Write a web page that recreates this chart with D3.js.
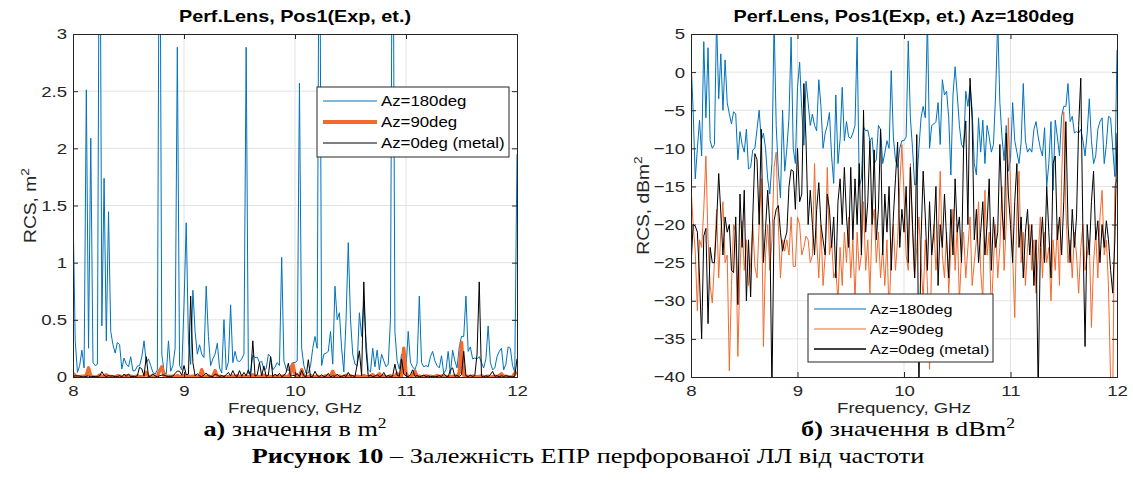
<!DOCTYPE html>
<html>
<head>
<meta charset="utf-8">
<script src="https://cdn.jsdelivr.net/npm/d3@7"></script>
<style>
  body { margin: 0; background: #fff; }
  svg { display: block; }
</style>
</head>
<body>
<svg id="chart" width="1133" height="494"></svg>
<script>
// Frequency grid, GHz
const freqStart = 8;
const freqStep = 0.02;

// RCS readings in dBm2, one per frequency step (201 points, 8..12 GHz)
const az180 = [
  1.7, -5, -14, -10, -6.3, -11, 4, -6, 3.2, -9,
  -10, -9.5, 7, -3.5, 2.4, -5, 1.6, -4, -5.5, -6.8,
  -5.2, -5.5, -11.5, -7.8, -9.5, -10.5, -7.5, -12.7, -12.5, -10.2,
  -10, -7.5, -5, -9, -8, -10, -14, -16, -12, 7,
  -7, -13, -16.5, -5, -13, -10, -6, 4.6, -10, -12,
  -2, 1.3, -5, -9.6, -1.2, -4, -7, -5.5, -7, -7.7,
  -1, -4.5, -10, -8, -7, -5.3, -11, -14.6, -3, -12,
  -8.8, -2, -9, -6.5, -8.5, -8.7, -8, -7, 4.6, -15,
  -14, -7.2, -7.7, -7.6, -9, -8.6, -12, -11.5, -7, -7.5,
  -12, -10.6, -9, -10, 0.2, -8.5, -11.5, -12.5, -10, -9,
  -9, -8.5, 4.1, -6, -10, -14.8, -14.6, -10, -6, -4.5,
  -6, 7, -10, -7, -6.8, -6.5, -4, -9.5, -1, -3,
  -2.5, -6, -13.5, -3, 0.7, -3, -7, -9.5, -10, -2.5,
  -4.5, -1.8, -5, -12, -13.5, -6, -10.5, -6.3, -12, -7,
  -8.5, -10.5, -9.5, -3, 7, -4, -8.5, -11.6, -7, -13,
  -11.5, -4, -9, -10.5, -12, -9.2, -1.5, -9, -10.5, -10,
  -10.5, -7.5, -6.5, -8.5, -10, -11, -7.3, -15, -12, -6.5,
  -15.5, -6.3, -8.5, -11, -5.8, -4.5, -4.5, -1.5, -6.5, -5.8,
  -8, -7.8, -8, -7.5, -9, -11, -8, -3.5, -9, -12,
  -11, -7.5, -6.5, -6, -12, -9.5, -5.8, -6, -10, -13.7,
  2.9
];

const az90 = [
  -15, -20, -23.5, -31.3, -22, -23, -18, -11, -22, -28,
  -30.3, -25, -18, -27, -21, -17, -25, -24, -39.2, -28,
  -20, -21, -37.3, -26, -19.5, -26, -22, -28, -25, -20,
  -25.5, -27, -20, -14, -36, -24, -20, -26, -22, -12.5,
  -10.5, -20, -27, -22, -23.5, -22, -24, -19, -25.5, -25.5,
  -19, -20, -24, -23, -21.5, -22, -25, -24, -12, -22,
  -27, -20, -28, -24, -12.5, -24, -22, -27, -26, -30,
  -23, -28, -21, -25, -19, -27, -22, -30, -21, -26,
  -24, -17, -26, -22, -29, -20, -18, -25, -21, -27,
  -23, -28, -22, -32, -24, -20, -26, -22, -15, -9.5,
  -16, -24, -26, -12, -21, -27, -23, -19, -25, -30,
  -22, -28, -39, -24, -20, -26, -22, -13, -24, -27,
  -21, -29, -23, -18, -26, -20, -30, -24, -21, -27,
  -23, -19, -28, -25, -22, -17, -26, -30, -15.5, -24,
  -21, -32, -25, -20, -27, -23, -15, -26, -20, -6,
  -15, -24, -32.2, -18, -13, -25, -21, -28, -23, -20,
  -26, -22, -29, -24, -19, -27, -21, -25, -23, -30,
  -22, -26, -20, -28, -14, -5.2, -18, -25, -22, -27,
  -21, -24, -29, -23, -20, -26, -24, -22, -33.5, -25,
  -21, -27, -19, -15.5, -24, -22, -28, -40.5, -42, -15,
  -14
];

const az0 = [
  -25.5, -20, -20.2, -21, -27, -35, -21.5, -20.5, -33, -23,
  -25, -25, -20, -13.3, -18.5, -24, -19, -21, -20, -26,
  -26.3, -19, -30.5, -16, -23, -15.5, -30, -22, -29.5, -19,
  -10.7, -11.5, -20, -7.5, -25, -20.5, -15.5, -20, -42, -19.5,
  -18, -17.5, -21, -23.5, -22, -21, -15, -12.8, -13, -18,
  -10, -17, -16, -1.5, -9, -20, -15.5, -20, -24, -18,
  -14.5, -20, -22, -24, -16, -18, -23, -19, -27, -17,
  -14, -20, -12.5, -19, -23, -12.5, -22, -14, -20, -12,
  -24, -5, -21, -17, -9, -20, -10.2, -22, -18, -7.5,
  -24, -16, -21, -15, -26, -19, -14, -9.2, -23, -18,
  -21, -15, -25, -12.5, -20, -27, -8.2, -42, -22, -13,
  -19, -26, -17, -24, -21, -15, -28, -20, -23, -16,
  -22, -27, -18, -24, -14, -21, -19, -25, -9.7, -6.4,
  -20, -0.8, -6.3, -22, -18, -25, -21, -17, -24, -20,
  -14, -26, -19, -23, -21, -9.5, -18, -22, -8, -16,
  -20, -25, -17, -12, -23, -19, -27, -21, -18, -24,
  -20, -28, -22, -42, -23, -19, -25, -15, -21, -27,
  -12, -11, -22, -19, -24, -17, -6.5, -20, -25, -18,
  -23, -19, -7, -0.8, -21, -36, -20, -24, -17, -13,
  -22, -19.5, -25, -20, -23, -19.5, -22, -26, -29, -22,
  -8
];

const seriesNames = ["Az=180deg", "Az=90deg", "Az=0deg (metal)"];
const seriesColors = ["#0072BD", "#F4692C", "#000000"];

const xTicks = [8, 9, 10, 11, 12];
const yTicksLin = [0, 0.5, 1, 1.5, 2, 2.5, 3];
const yTicksDb = [-40, -35, -30, -25, -20, -15, -10, -5, 0, 5];

const freqs = az180.map((d, i) => freqStart + i * freqStep);
const toLin = db => Math.pow(10, db / 10);

const svg = d3.select("#chart");
const axisColor = "#262626";
const sans = "'Liberation Sans', Arial, sans-serif";
const serif = "'Liberation Serif', 'Times New Roman', serif";
const sx = 1.2; // the reference text is wide, stretch it a bit

// move a text's x/y into a transform so it can be stretched horizontally
function stretch(sel, k, extra) {
    sel.each(function() {
        const t = d3.select(this);
        const x = +t.attr("x") || 0;
        const y = +t.attr("y") || 0;
        t.attr("x", 0).attr("y", 0)
         .attr("transform", `translate(${x},${y}) ${extra || ""} scale(${k},1)`);
    });
}

function drawPanel(cfg) {
    const { left, right, top, bottom } = cfg;
    const x = d3.scaleLinear().domain([8, 12]).range([left, right]);
    const y = d3.scaleLinear().domain(cfg.yDomain).range([bottom, top]);
    const g = svg.append("g");

    // grid
    g.selectAll(".gx").data(xTicks.slice(1, -1)).enter().append("line")
        .attr("x1", d => x(d)).attr("x2", d => x(d))
        .attr("y1", top).attr("y2", bottom)
        .attr("stroke", "#e3e3e3").attr("stroke-width", 1);
    g.selectAll(".gy").data(cfg.yTicks.slice(1, -1)).enter().append("line")
        .attr("x1", left).attr("x2", right)
        .attr("y1", d => y(d)).attr("y2", d => y(d))
        .attr("stroke", "#e3e3e3").attr("stroke-width", 1);

    // clip for data lines
    const clipId = "clip" + cfg.id;
    svg.append("clipPath").attr("id", clipId)
      .append("rect").attr("x", left).attr("y", top)
        .attr("width", right - left).attr("height", bottom - top);

    const line = d3.line()
        .x((d, i) => x(freqs[i]))
        .y(d => y(d));

    cfg.series.forEach((s, i) => {
        g.append("path")
            .datum(s.values)
            .attr("clip-path", `url(#${clipId})`)
            .attr("d", line)
            .attr("fill", "none")
            .attr("stroke", seriesColors[i])
            .attr("stroke-width", s.width)
            .attr("stroke-linejoin", "round");
    });

    // axes, ticks inside
    g.append("g").attr("transform", `translate(0,${bottom})`)
        .call(d3.axisBottom(x).tickValues(xTicks).tickSize(-5).tickPadding(8).tickFormat(d3.format("d")));
    g.append("g").attr("transform", `translate(${left},0)`)
        .call(d3.axisLeft(y).tickValues(cfg.yTicks).tickSize(-5).tickPadding(6).tickFormat(cfg.fmt));
    g.append("g").attr("transform", `translate(0,${top})`)
        .call(d3.axisTop(x).tickValues(xTicks).tickSize(-5).tickFormat(""));
    g.append("g").attr("transform", `translate(${right},0)`)
        .call(d3.axisRight(y).tickValues(cfg.yTicks).tickSize(-5).tickFormat(""));
    g.selectAll(".domain").attr("stroke", axisColor);
    g.selectAll(".tick line").attr("stroke", axisColor);
    const tickText = g.selectAll(".tick text")
        .attr("fill", axisColor).style("font-family", sans).style("font-size", "15.5px");
    stretch(tickText, sx);

    // title
    const title = g.append("text")
        .attr("x", (left + right) / 2).attr("y", top - 12)
        .attr("text-anchor", "middle")
        .style("font-family", sans).style("font-size", "16.5px").style("font-weight", "bold")
        .attr("fill", "#000")
        .text(cfg.title);
    stretch(title, sx);

    // x label
    const xl = g.append("text")
        .attr("x", (left + right) / 2).attr("y", bottom + 36)
        .attr("text-anchor", "middle")
        .style("font-family", sans).style("font-size", "15.5px")
        .attr("fill", axisColor)
        .text("Frequency, GHz");
    stretch(xl, sx);

    // y label with superscript
    const yl = g.append("text")
        .attr("x", cfg.ylabelX).attr("y", (top + bottom) / 2)
        .attr("text-anchor", "middle")
        .style("font-family", sans).style("font-size", "16px")
        .attr("fill", axisColor);
    yl.append("tspan").text(cfg.ylabel);
    yl.append("tspan").attr("dy", -7).style("font-size", "11.5px").text("2");
    stretch(yl, 1.2, "rotate(-90)");

    // legend
    const lg = cfg.legend;
    g.append("rect")
        .attr("x", lg.x).attr("y", lg.y).attr("width", lg.w).attr("height", lg.h)
        .attr("fill", "#fff").attr("stroke", axisColor).attr("stroke-width", 1);
    seriesNames.forEach((name, i) => {
        const ly = lg.y + lg.rowTop + i * lg.rowStep;
        g.append("line")
            .attr("x1", lg.x + 6).attr("x2", lg.x + 6 + lg.lineLen)
            .attr("y1", ly).attr("y2", ly)
            .attr("stroke", seriesColors[i])
            .attr("stroke-width", cfg.series[i].legendWidth);
        const lt = g.append("text")
            .attr("x", lg.x + 10 + lg.lineLen).attr("y", ly + 5)
            .style("font-family", sans).style("font-size", lg.font)
            .attr("fill", "#000")
            .text(name);
        stretch(lt, sx);
    });
}

drawPanel({
    id: "a", left: 73, right: 517, top: 34, bottom: 377,
    yDomain: [0, 3], yTicks: yTicksLin, fmt: d3.format("~g"),
    title: "Perf.Lens, Pos1(Exp, et.)",
    ylabel: "RCS, m", ylabelX: 36,
    series: [
        { values: az180.map(toLin), width: 1, legendWidth: 1.2 },
        { values: az90.map(toLin), width: 3.5, legendWidth: 4 },
        { values: az0.map(toLin), width: 1, legendWidth: 1 }
    ],
    legend: { x: 317, y: 87, w: 192, h: 70, rowTop: 14, rowStep: 21, lineLen: 54, font: "14px" }
});

drawPanel({
    id: "b", left: 691, right: 1117, top: 34, bottom: 377,
    yDomain: [-40, 5], yTicks: yTicksDb, fmt: d3.format("d"),
    title: "Perf.Lens, Pos1(Exp, et.) Az=180deg",
    ylabel: "RCS, dBm", ylabelX: 649,
    series: [
        { values: az180, width: 1, legendWidth: 1.2 },
        { values: az90, width: 1, legendWidth: 1.2 },
        { values: az0, width: 1, legendWidth: 1.5 }
    ],
    legend: { x: 808, y: 294, w: 185, h: 68, rowTop: 15, rowStep: 20, lineLen: 52, font: "13.5px" }
});

// captions under panels
function caption(cx, cy, bold, rest, sup) {
    const t = svg.append("text")
        .attr("x", cx).attr("y", cy)
        .attr("text-anchor", "middle")
        .style("font-family", serif).style("font-size", "21px")
        .attr("fill", "#000");
    t.append("tspan").style("font-weight", "bold").text(bold);
    t.append("tspan").text(rest);
    if (sup) {
        t.append("tspan").attr("dy", -8).style("font-size", "14px").text(sup);
    }
    stretch(t, 1.25);
}

caption(295, 436, "а)", " значення в m", "2");
caption(908, 436, "б)", " значення в dBm", "2");
caption(588, 463, "Рисунок 10", " – Залежність ЕПР перфорованої ЛЛ від частоти", null);
</script>
</body>
</html>
